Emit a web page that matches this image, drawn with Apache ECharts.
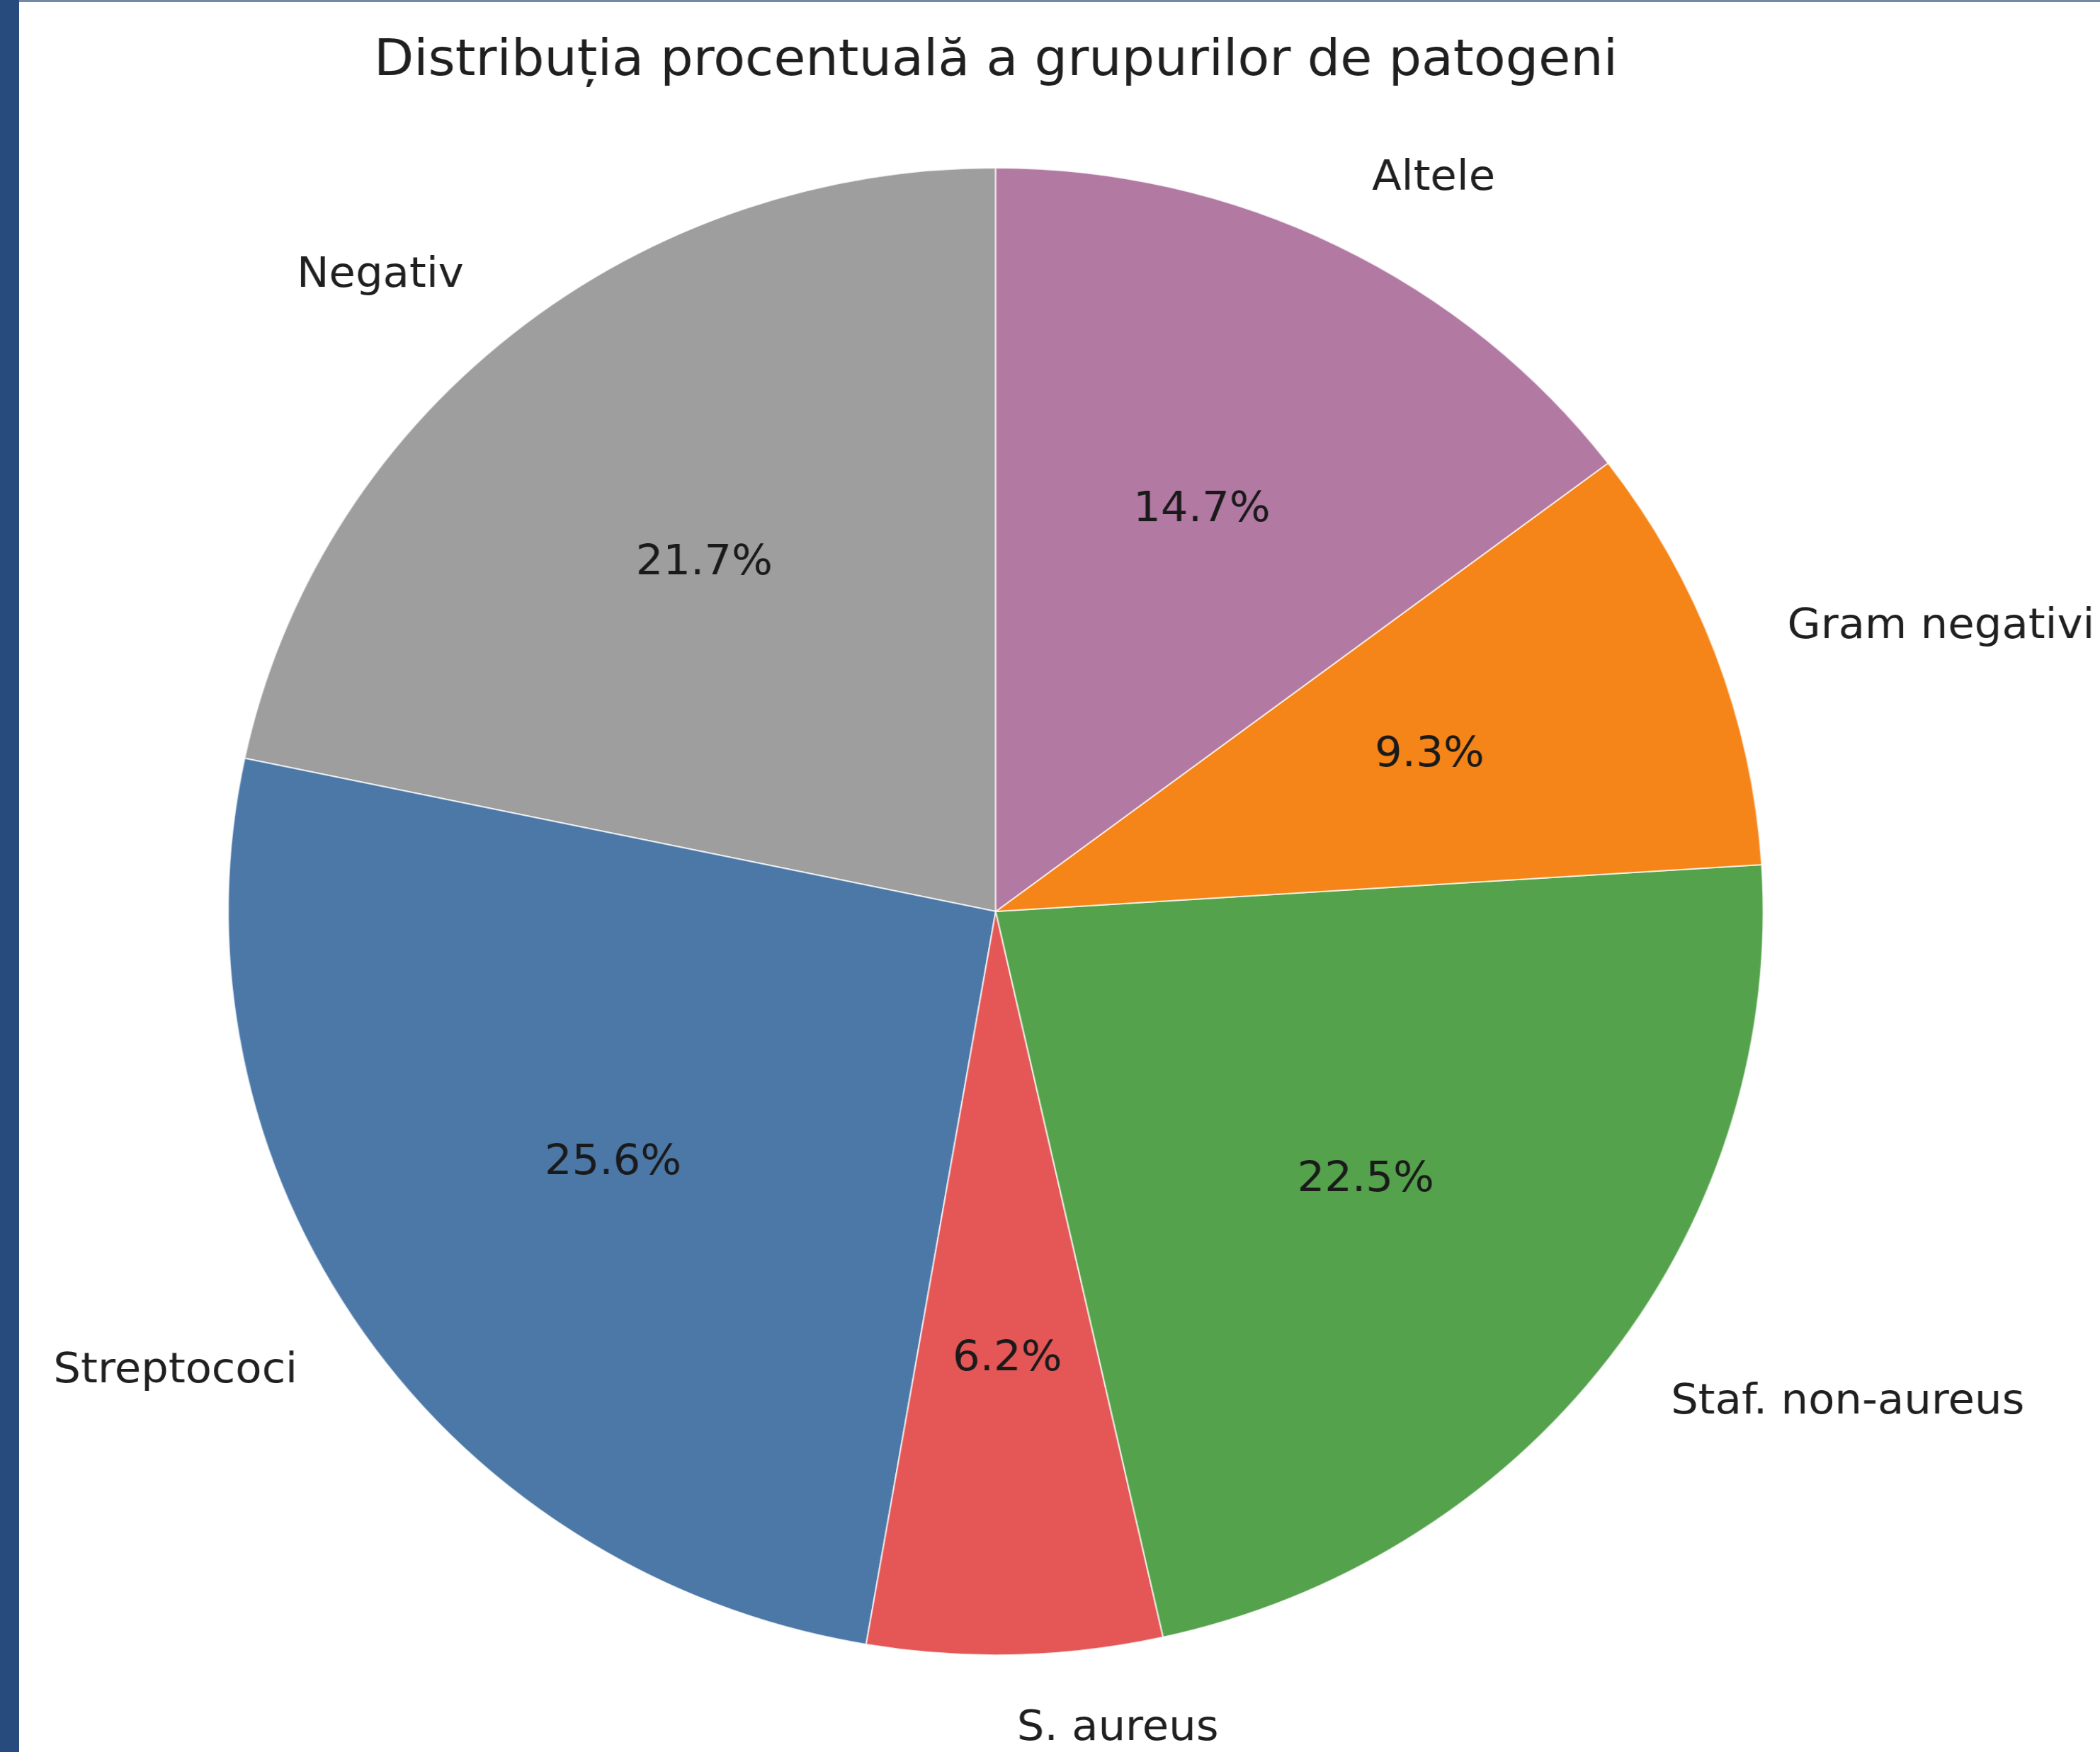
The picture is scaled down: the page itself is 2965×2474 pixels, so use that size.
<!DOCTYPE html>
<html>
<head>
<meta charset="utf-8">
<title>Distribuția procentuală a grupurilor de patogeni</title>
<script src="https://cdn.jsdelivr.net/npm/echarts@6/dist/echarts.min.js"></script>
<style>
  html, body {
    margin: 0;
    padding: 0;
    width: 2965px;
    height: 2474px;
    overflow: hidden;
    background: #ffffff;
    position: relative;
  }
  /* the source picture is a little wider than tall, so stretch the chart box */
  #chart {
    position: absolute;
    left: -153px;
    top: 0;
    width: 3021px;
    height: 2474px;
    transform: scaleX(1.032);
    transform-origin: 0 0;
  }
  .frame-left {
    position: absolute;
    left: 0;
    top: 0;
    width: 27px;
    height: 2474px;
    background: #284b7d;
    z-index: 2;
  }
  .frame-top {
    position: absolute;
    left: 0;
    top: 0;
    width: 2965px;
    height: 3px;
    background: #7489a6;
    z-index: 2;
  }
</style>
</head>
<body>
<div id="chart"></div>
<div class="frame-top"></div>
<div class="frame-left"></div>
<script>
const categories = ['Negativ', 'Streptococi', 'S. aureus', 'Staf. non-aureus', 'Gram negativi', 'Altele']
const percentages = [21.7, 25.6, 6.2, 22.5, 9.3, 14.7]
const sliceColors = ['#9e9e9e', '#4c78a8', '#e45756', '#54a24b', '#f58518', '#b279a2']

const FONT = '"DejaVu Sans", "Noto Sans", sans-serif'
const RADIUS = 1050

const chart = echarts.init(document.getElementById('chart'))

const pieData = categories.map((name, i) => ({
  name,
  value: percentages[i],
  itemStyle: { color: sliceColors[i] },
}))

const option = {
  animation: false,
  backgroundColor: 'transparent',
  title: {
    text: 'Distribuția procentuală a grupurilor de patogeni',
    left: 'center',
    top: 47,
    textStyle: {
      fontFamily: FONT,
      fontSize: 71,
      fontWeight: 'normal',
      color: '#1f1f1f',
    },
  },
  series: [
    {
      // slices + outer category labels
      type: 'pie',
      center: ['50%', 1287],
      radius: [0, RADIUS],
      startAngle: 90,
      clockwise: false,
      avoidLabelOverlap: false,
      itemStyle: {
        borderColor: 'rgba(255,255,255,0.75)',
        borderWidth: 2,
      },
      label: {
        show: true,
        position: 'outside',
        formatter: '{b}',
        fontFamily: FONT,
        fontSize: 59,
        color: '#1f1f1f',
        overflow: 'none',
        distanceToLabelLine: 0,
      },
      labelLine: {
        show: false,
        length: RADIUS * 0.1,
        length2: 0,
      },
      emphasis: { disabled: true },
      data: pieData,
    },
    {
      // transparent ring, only used to put the percentages at 0.6 r
      type: 'pie',
      center: ['50%', 1287],
      radius: [RADIUS * 0.2, RADIUS],
      startAngle: 90,
      clockwise: false,
      silent: true,
      avoidLabelOverlap: false,
      itemStyle: {
        color: 'rgba(0,0,0,0)',
        borderWidth: 0,
      },
      label: {
        show: true,
        position: 'inner',
        formatter: (p) => p.value.toFixed(1) + '%',
        fontFamily: FONT,
        fontSize: 59,
        color: '#1a1a1a',
      },
      labelLine: { show: false },
      emphasis: { disabled: true },
      data: categories.map((name, i) => ({ name, value: percentages[i] })),
    },
  ],
}

chart.setOption(option)
</script>
</body>
</html>
